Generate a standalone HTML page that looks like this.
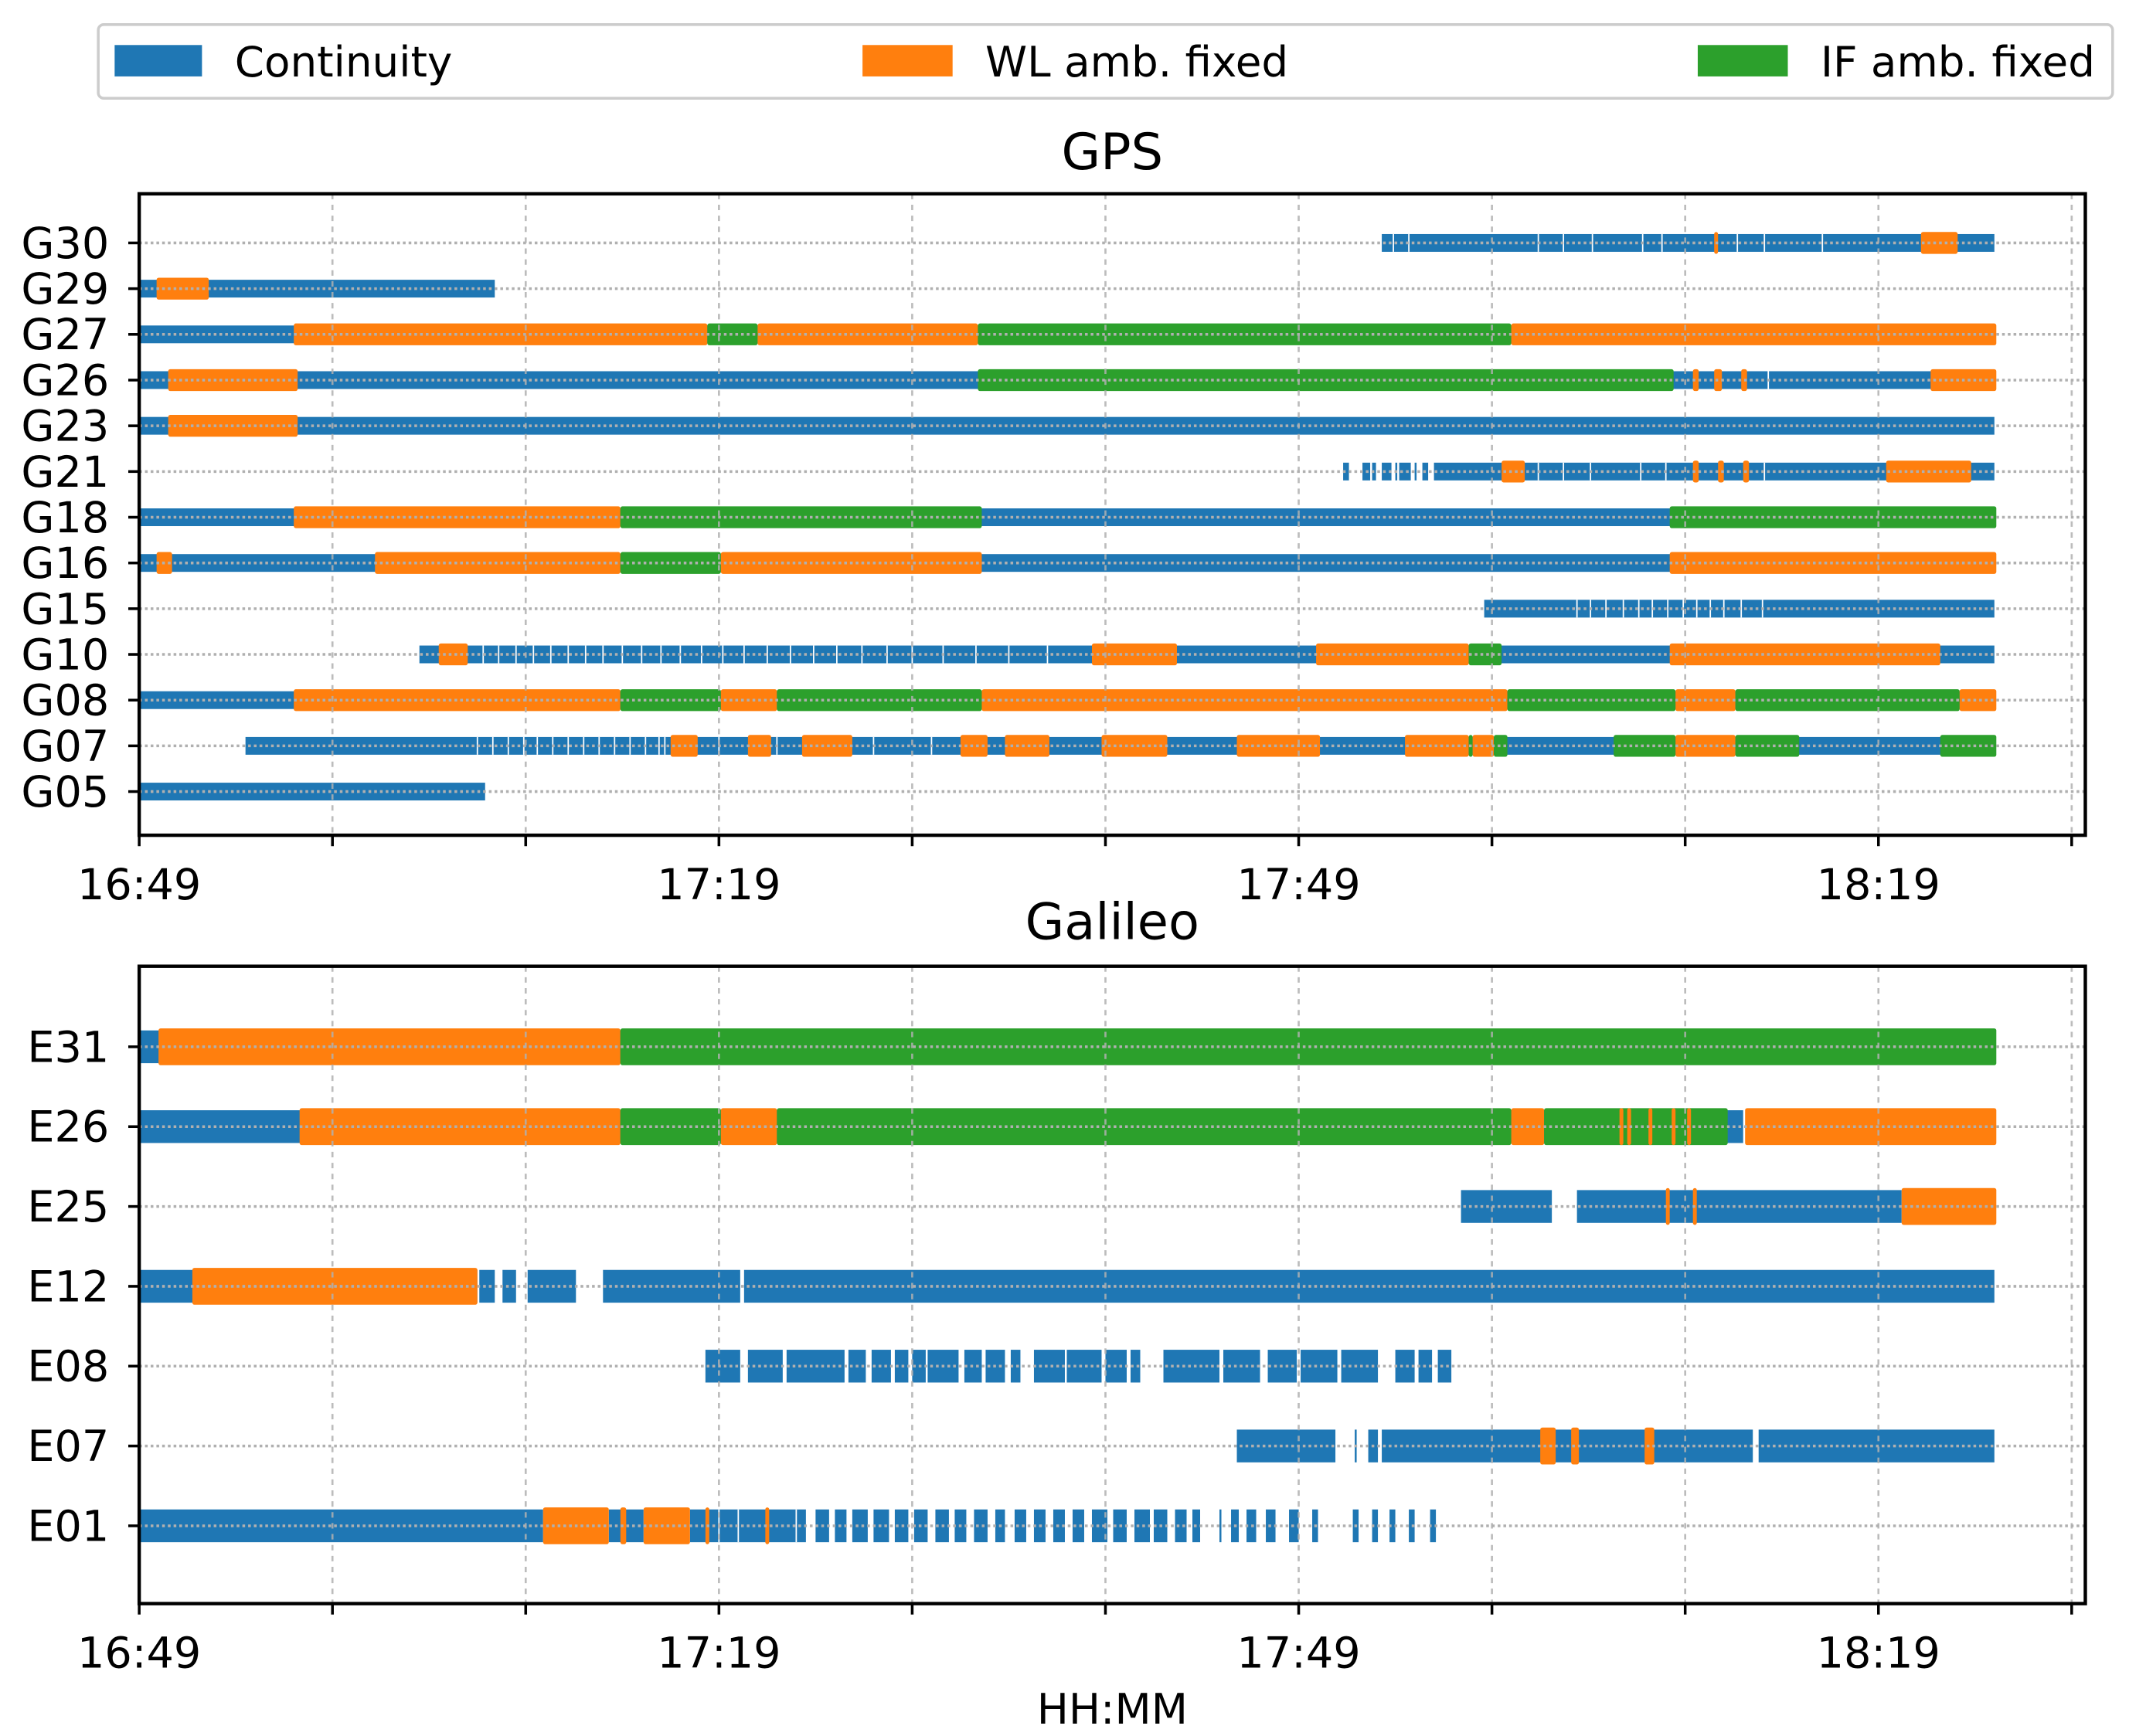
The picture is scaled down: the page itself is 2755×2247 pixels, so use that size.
<!DOCTYPE html>
<html><head><meta charset="utf-8"><title>GPS / Galileo ambiguity fixing</title>
<style>
html,body{margin:0;padding:0;background:#fff;}
svg{display:block;}
text{font-family:"DejaVu Sans","Liberation Sans",sans-serif;fill:#000;}
</style></head>
<body>
<svg id="chart" xmlns="http://www.w3.org/2000/svg" width="2755" height="2247" viewBox="0 0 1560 1272" preserveAspectRatio="none">
  <g>
    <rect x="72" y="18" width="1476" height="54" rx="4" fill="#fff" stroke="#cccccc" stroke-width="2"/>
    <g>
      <rect x="84" y="33" width="64" height="23" fill="#1f77b4"/>
      <text x="172" y="56" font-size="31">Continuity</text>
    </g>
    <g>
      <rect x="632" y="33" width="66" height="23" fill="#ff7f0e"/>
      <text x="722" y="56" font-size="31">WL amb. fixed</text>
    </g>
    <g>
      <rect x="1244" y="33" width="66" height="23" fill="#2ca02c"/>
      <text x="1334" y="56" font-size="31">IF amb. fixed</text>
    </g>
  </g>
  <g id="gps"></g>
  <g id="gal"></g>
  <text x="815" y="1263" font-size="31" text-anchor="middle">HH:MM</text>
</svg>
<script>
// ---- data (minutes after 16:49) ----
const xTickLabels = ['16:49','17:19','17:49','18:19'];
const xTickMinutes = [0,30,60,90];
const xMinorMinutes = [0,10,20,30,40,50,60,70,80,90,100];

const gpsRows = ['G05','G07','G08','G10','G15','G16','G18','G21','G23','G26','G27','G29','G30'];
const galRows = ['E01','E07','E08','E12','E25','E26','E31'];

// continuity (blue) segments per satellite: [start,end]
const gpsCont = {
  G30:[[64.3,96.0]], G29:[[0,18.4]], G27:[[0,96.0]], G26:[[0,96.0]], G23:[[0,96.0]],
  G21:[[62.3,62.6],[63.3,63.7],[63.8,64.0],[64.3,64.8],[65.0,65.1],[65.2,65.8],[66.0,66.1],[66.4,66.7],[67.0,96.0]],
  G18:[[0,96.0]], G16:[[0,96.0]], G15:[[69.6,96.0]], G10:[[14.5,96.0]], G08:[[0,96.0]], G07:[[5.5,96.0]], G05:[[0,17.9]]
};
// thin breaks inside blue segments
const gpsGaps = {
  G30:[64.9,65.7,72.4,73.7,75.2,77.8,78.8,82.7,84.1,87.1],
  G21:[72.4,73.7,75.1,77.7,79.0,84.1],
  G15:[74.4,75.1,75.9,76.8,77.6,78.3,79.1,79.9,80.6,81.3,82.0,82.9,84.0],
  G10:[17.8,18.6,19.5,20.4,21.3,22.2,23.1,24.0,25.0,26.0,27.0,28.0,29.1,30.2,31.3,32.5,33.7,34.9,36.1,37.4,38.7,40.0,41.6,43.3,45.0,47.0],
  G07:[17.5,18.3,19.1,19.9,20.6,21.4,22.2,23.0,23.8,24.6,25.4,26.2,26.9,27.2,30.0,33.0,38.0,41.0],
  G26:[84.3], G29:[]
};
// fixed segments [start,end,type] type: 'wl' or 'if'
const gpsFix = {
  G30:[[81.5,81.7,'wl'],[92.2,94.1,'wl']],
  G29:[[0.9,3.6,'wl']],
  G27:[[8.0,29.4,'wl'],[29.4,32.0,'if'],[32.0,43.4,'wl'],[43.4,71.0,'if'],[71.0,96.1,'wl']],
  G26:[[1.5,8.2,'wl'],[43.4,79.4,'if'],[80.4,80.7,'wl'],[81.5,81.9,'wl'],[82.9,83.2,'wl'],[92.7,96.1,'wl']],
  G23:[[1.5,8.2,'wl']],
  G21:[[70.5,71.7,'wl'],[80.4,80.7,'wl'],[81.7,82.0,'wl'],[83.0,83.3,'wl'],[90.4,94.8,'wl']],
  G18:[[8.0,24.9,'wl'],[24.9,43.6,'if'],[79.2,96.1,'if']],
  G16:[[0.9,1.7,'wl'],[12.2,24.9,'wl'],[24.9,30.1,'if'],[30.1,43.6,'wl'],[79.2,96.1,'wl']],
  G15:[],
  G10:[[15.5,17.0,'wl'],[49.3,53.7,'wl'],[60.9,68.8,'wl'],[68.8,70.5,'if'],[79.2,93.2,'wl']],
  G08:[[8.0,24.9,'wl'],[24.9,30.1,'if'],[30.1,33.0,'wl'],[33.0,43.6,'if'],[43.6,70.8,'wl'],[70.8,79.5,'if'],[79.5,82.6,'wl'],[82.6,94.2,'if'],[94.2,96.1,'wl']],
  G07:[[27.5,28.9,'wl'],[31.5,32.7,'wl'],[34.3,36.9,'wl'],[42.5,43.9,'wl'],[44.8,47.1,'wl'],[49.8,53.2,'wl'],[56.8,61.1,'wl'],[65.5,68.8,'wl'],[68.8,69.0,'if'],[69.0,70.1,'wl'],[70.1,70.8,'if'],[76.3,79.5,'if'],[79.5,82.6,'wl'],[82.6,85.9,'if'],[93.2,96.1,'if']],
  G05:[]
};

const galCont = {
  E31:[[0,96.0]],
  E26:[[0,83.0]],
  E25:[[68.4,73.1],[74.4,91.2]],
  E12:[[0,17.5],[17.6,18.4],[18.8,19.5],[20.1,22.6],[24.0,31.1],[31.3,96.0]],
  E08:[[29.3,31.1],[31.5,33.3],[33.5,36.5],[36.7,37.6],[37.9,38.9],[39.1,39.8],[40.0,40.7],[40.8,42.4],[42.7,43.6],[43.8,44.8],[45.1,45.6],[46.3,47.9],[48.0,49.8],[50.0,51.1],[51.3,51.8],[53.0,55.9],[56.1,58.0],[58.4,59.9],[60.1,62.0],[62.2,64.1],[65.0,66.0],[66.2,66.9],[67.2,67.9]],
  E07:[[56.8,61.9],[62.9,63.0],[63.6,64.1],[64.3,83.5],[83.8,96.0]],
  E01:[[0,20.9],[24.3,26.1],[28.5,34.5],[35.0,35.7],[36.0,36.6],[36.9,37.7],[38.0,38.8],[39.1,39.8],[40.1,40.8],[41.2,41.9],[42.2,42.8],[43.2,43.9],[44.3,44.8],[45.3,45.9],[46.3,46.9],[47.3,47.9],[48.3,48.9],[49.3,50.1],[50.4,51.1],[51.5,52.3],[52.5,53.2],[53.6,54.2],[54.5,54.9],[55.9,56.0],[56.5,56.9],[57.3,57.8],[58.3,58.8],[59.5,60.0],[60.7,61.0],[62.8,63.1],[63.8,64.1],[64.7,65.0],[65.7,66.0],[66.8,67.1]]
};
const galGaps = {
  E08:[], E01:[30.0,31.0,34.0], E26:[]
};
const galFix = {
  E31:[[1.0,24.9,'wl'],[24.9,96.1,'if']],
  E26:[[8.3,24.9,'wl'],[24.9,30.1,'if'],[30.1,33.0,'wl'],[33.0,71.0,'if'],[71.0,72.7,'wl'],[72.7,82.2,'if'],[76.6,76.8,'wl'],[77.0,77.2,'wl'],[78.1,78.3,'wl'],[79.3,79.5,'wl'],[80.1,80.3,'wl'],[83.1,96.1,'wl']],
  E25:[[79.0,79.2,'wl'],[80.4,80.6,'wl'],[91.2,96.1,'wl']],
  E12:[[2.75,17.5,'wl']],
  E08:[],
  E07:[[72.5,73.3,'wl'],[74.1,74.5,'wl'],[77.9,78.4,'wl']],
  E01:[[20.9,24.3,'wl'],[24.9,25.2,'wl'],[26.1,28.5,'wl'],[29.3,29.5,'wl'],[32.4,32.6,'wl']]
};

// ---- rendering ----
const NS='http://www.w3.org/2000/svg';
const COLORS={c:'#1f77b4',wl:'#ff7f0e',if:'#2ca02c'};
const X0=102, X1=1528, PXMIN=14.16;
function xs(m){return X0+m*PXMIN;}
function mk(tag,attrs,parent){const e=document.createElementNS(NS,tag);for(const k in attrs)e.setAttribute(k,attrs[k]);parent.appendChild(e);return e;}

function drawPanel(g,cfg){
  const {rows,cont,gaps,fix,top,bottom,yBottom,step,hb,hf,title,titleY,labelY,prefix}=cfg;
  const ys=i=>yBottom-i*step;
  const t=mk('text',{x:815,y:titleY,'font-size':37,'text-anchor':'middle'},g);
  t.textContent=title;
  
  
  rows.forEach((r,i)=>{
    const y=ys(i);
    (cont[r]||[]).forEach(s=>{
      const b=mk('rect',{x:xs(s[0]),y:y-hb/2,width:Math.max(0.8,xs(s[1])-xs(s[0])),height:hb,fill:COLORS.c},g);
      
      
    });
    (gaps[r]||[]).forEach(m=>{
      const gp=mk('rect',{x:xs(m)-0.5,y:y-hb/2,width:1,height:hb,fill:'#fff'},g);
      
      
    });
    (fix[r]||[]).forEach(s=>{
      const w=Math.max(2,xs(s[1])-xs(s[0]));
      const b=mk('rect',{x:xs(s[0]),y:y-hf/2,width:w,height:hf,rx:1.5,fill:COLORS[s[2]]},g);
      
      
    });
  });
  // grid
  xMinorMinutes.forEach(m=>{
    const l=mk('line',{x1:xs(m),x2:xs(m),y1:top,y2:bottom,stroke:'#b0b0b0','stroke-width':1.5,'stroke-dasharray':'4,4','stroke-opacity':0.85},g);
    
    
  });
  rows.forEach((r,i)=>{
    const y=ys(i);
    const l=mk('line',{x1:X0,x2:X1,y1:y,y2:y,stroke:'#b0b0b0','stroke-width':2,'stroke-dasharray':'2,2.2'},g);
    
    
    const tk=mk('line',{x1:X0-8,x2:X0,y1:y,y2:y,stroke:'#000','stroke-width':2},g);
    
    
    const tl=mk('text',{x:X0-22,y:y+11,'font-size':31.5,'text-anchor':'end'},g);
    tl.textContent=r;
    
    
  });
  xMinorMinutes.forEach(m=>{
    const tk=mk('line',{x1:xs(m),x2:xs(m),y1:bottom,y2:bottom+8,stroke:'#000','stroke-width':2},g);
    
    
  });
  xTickMinutes.forEach((m,k)=>{
    const tl=mk('text',{x:xs(m),y:labelY,'font-size':31.5,'text-anchor':'middle'},g);
    tl.textContent=xTickLabels[k];
    
    
  });
  const fr=mk('rect',{x:X0,y:top,width:X1-X0,height:bottom-top,fill:'none',stroke:'#000','stroke-width':2.5},g);
  
  
}

drawPanel(document.getElementById('gps'),{rows:gpsRows,cont:gpsCont,gaps:gpsGaps,fix:gpsFix,top:142,bottom:612,yBottom:580,step:33.5,hb:13,hf:16,title:'GPS',titleY:124,labelY:659,prefix:'gps'});
drawPanel(document.getElementById('gal'),{rows:galRows,cont:galCont,gaps:galGaps,fix:galFix,top:708,bottom:1175,yBottom:1118,step:58.5,hb:24,hf:27,title:'Galileo',titleY:688,labelY:1222,prefix:'galileo'});
</script>
</body></html>
